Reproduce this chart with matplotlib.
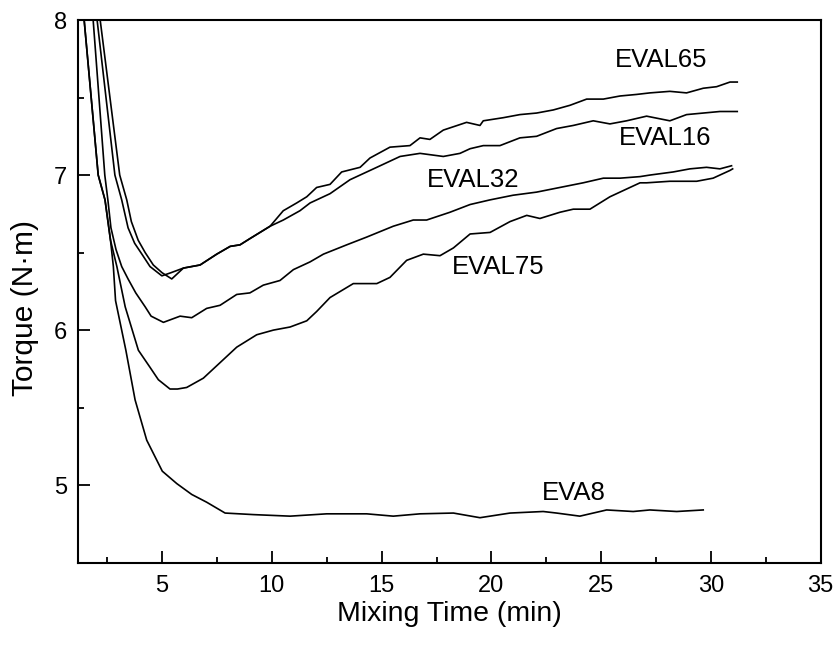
import matplotlib
matplotlib.use("Agg")
import matplotlib.pyplot as plt
from matplotlib.ticker import MultipleLocator

plt.rcParams['font.family'] = ['Liberation Sans', 'DejaVu Sans']

# ---- data ----
eva8_x = [1.45, 2.09, 2.40, 2.65, 2.78, 2.88, 3.35, 3.77, 4.30, 5.01, 5.67, 6.35, 7.03, 7.87,
          9.16, 10.83, 12.5, 14.32, 15.53, 16.75, 18.27, 19.48, 20.85, 22.36, 22.97, 24.03,
          25.25, 26.46, 27.22, 28.44, 29.65]
eva8_y = [8.0, 7.0, 6.84, 6.58, 6.41, 6.19, 5.87, 5.55, 5.29, 5.09, 5.01, 4.94, 4.89, 4.82,
          4.81, 4.80, 4.815, 4.815, 4.80, 4.815, 4.82, 4.79, 4.82, 4.83, 4.82, 4.80,
          4.84, 4.83, 4.84, 4.83, 4.84]

eval75_x = [1.45, 2.09, 2.40, 2.65, 2.94, 3.32, 3.92, 4.45, 4.83, 5.36, 5.70, 6.12, 6.88, 7.64,
            8.40, 9.31, 10.07, 10.83, 11.59, 12.04, 12.65, 13.71, 14.78, 15.38, 16.14, 16.90,
            17.66, 18.27, 19.03, 19.94, 20.85, 21.61, 22.21, 23.12, 23.73, 24.49, 25.40, 26.16,
            26.77, 27.07, 28.13, 29.35, 30.10, 30.87, 30.99]
eval75_y = [8.0, 7.0, 6.84, 6.58, 6.41, 6.15, 5.87, 5.76, 5.68, 5.62, 5.62, 5.63, 5.69, 5.79,
            5.89, 5.97, 6.00, 6.02, 6.06, 6.12, 6.21, 6.30, 6.30, 6.34, 6.45, 6.49,
            6.48, 6.53, 6.62, 6.63, 6.70, 6.74, 6.72, 6.76, 6.78, 6.78, 6.86, 6.91,
            6.95, 6.95, 6.96, 6.96, 6.98, 7.03, 7.04]

eval32_x = [1.86, 2.39, 2.53, 2.67, 2.90, 3.16, 3.45, 3.80, 4.23, 4.50, 5.06, 5.82, 6.35, 7.03,
            7.64, 8.40, 9.00, 9.61, 10.37, 10.98, 11.74, 12.35, 13.41, 14.32, 15.53, 16.44,
            17.05, 18.11, 19.03, 19.94, 20.99, 22.06, 23.12, 24.18, 25.10, 25.86, 26.77,
            27.22, 28.28, 29.04, 29.80, 30.41, 30.94]
eval32_y = [8.0, 7.0, 6.84, 6.66, 6.52, 6.41, 6.33, 6.24, 6.15, 6.09, 6.05, 6.09, 6.08, 6.14,
            6.16, 6.23, 6.24, 6.29, 6.32, 6.39, 6.44, 6.49, 6.55, 6.60, 6.67, 6.71,
            6.71, 6.76, 6.81, 6.84, 6.87, 6.89, 6.92, 6.95, 6.98, 6.98, 6.99,
            7.00, 7.02, 7.04, 7.05, 7.04, 7.06]

eval65_x = [2.18, 3.07, 3.39, 3.60, 3.91, 4.23, 4.60, 5.00, 5.44, 5.97, 6.73, 7.49, 8.10, 8.55,
            9.00, 9.46, 9.92, 10.52, 11.13, 11.59, 12.04, 12.65, 13.18, 14.02, 14.47, 15.38,
            16.29, 16.75, 17.20, 17.81, 18.87, 19.48, 19.63, 20.54, 21.30, 22.06, 22.82,
            23.58, 24.34, 25.10, 25.86, 26.61, 27.22, 28.13, 28.89, 29.65, 30.26, 30.87, 31.20]
eval65_y = [8.0, 7.0, 6.84, 6.70, 6.58, 6.50, 6.42, 6.37, 6.33, 6.40, 6.42, 6.49, 6.54, 6.55,
            6.59, 6.63, 6.67, 6.77, 6.82, 6.86, 6.92, 6.94, 7.02, 7.05, 7.11, 7.18,
            7.19, 7.24, 7.23, 7.29, 7.34, 7.32, 7.35, 7.37, 7.39, 7.40, 7.42,
            7.45, 7.49, 7.49, 7.51, 7.52, 7.53, 7.54, 7.53, 7.56, 7.57, 7.60, 7.60]

eval16_x = [2.04, 2.85, 3.16, 3.45, 3.75, 4.08, 4.45, 4.99, 5.40, 5.97, 6.73, 7.49, 8.10, 8.55,
            9.00, 9.46, 9.92, 10.52, 11.28, 11.74, 12.65, 13.56, 14.78, 15.84, 16.75, 17.81,
            18.57, 19.03, 19.63, 20.39, 21.30, 22.06, 22.97, 23.73, 24.64, 25.40, 26.16,
            27.07, 28.13, 28.89, 29.65, 30.41, 31.20]
eval16_y = [8.0, 7.0, 6.84, 6.66, 6.56, 6.49, 6.41, 6.35, 6.37, 6.40, 6.42, 6.49, 6.54, 6.55,
            6.59, 6.63, 6.67, 6.71, 6.77, 6.82, 6.88, 6.97, 7.05, 7.12, 7.14, 7.12,
            7.14, 7.17, 7.19, 7.19, 7.24, 7.25, 7.30, 7.32, 7.35, 7.33, 7.35,
            7.38, 7.35, 7.39, 7.40, 7.41, 7.41]

labels = ["EVAL65", "EVAL16", "EVAL32", "EVAL75", "EVA8"]
label_x = [25.63, 25.83, 17.05, 18.19, 22.29]
label_y = [7.74, 7.24, 6.97, 6.41, 4.95]

x_ticks = [5, 10, 15, 20, 25, 30, 35]
y_ticks = [5, 6, 7, 8]

# ---- figure ----
fig = plt.figure(figsize=(8.37, 6.46), dpi=100)
ax = fig.add_axes([0.0932, 0.129, 0.8873, 0.840])

for xs, ys in [(eva8_x, eva8_y), (eval75_x, eval75_y), (eval32_x, eval32_y),
               (eval65_x, eval65_y), (eval16_x, eval16_y)]:
    ax.plot(xs, ys, color='black', lw=1.2)

for t, lx, ly in zip(labels, label_x, label_y):
    ax.text(lx, ly, t, fontsize=18.5, ha='left', va='center')

ax.set_xlim(1.17, 35)
ax.set_ylim(4.5, 8)
ax.set_xticks(x_ticks)
ax.set_yticks(y_ticks)
ax.xaxis.set_minor_locator(MultipleLocator(2.5))
ax.yaxis.set_minor_locator(MultipleLocator(0.5))
ax.tick_params(which='both', direction='in', top=False, right=False, width=1.3)
ax.tick_params(which='major', length=8.5)
ax.tick_params(which='minor', length=4.3)
ax.tick_params(axis='x', which='major', labelsize=17, pad=9)
ax.tick_params(axis='y', which='major', labelsize=17, pad=8)
for s in ax.spines.values():
    s.set_linewidth(1.5)

ax.set_xlabel("Mixing Time (min)", fontsize=20.5)
ax.set_ylabel("Torque (N\u00b7m)", fontsize=21.5)
ax.xaxis.set_label_coords(0.5, -0.07)
ax.yaxis.set_label_coords(-0.052, 0.47)

fig.savefig("out.png", dpi=100)
